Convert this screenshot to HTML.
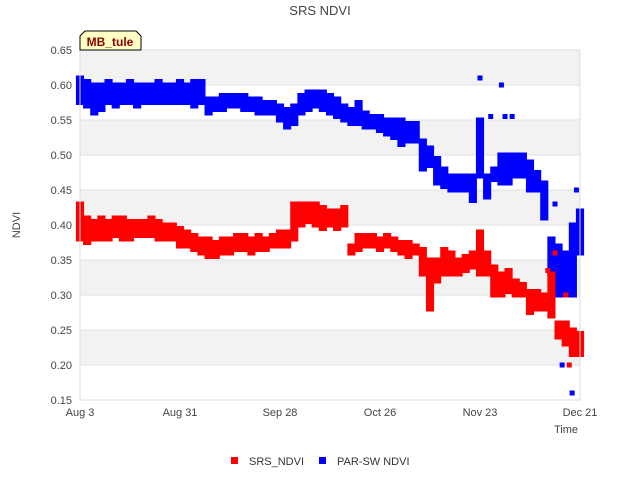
<!DOCTYPE html>
<html><head><meta charset="utf-8"><style>
body{margin:0;background:#fff;}
svg{font-family:"Liberation Sans","DejaVu Sans",sans-serif;}
</style></head><body>
<svg id="c" width="640" height="480" viewBox="0 0 640 480">
<text x="320" y="15" text-anchor="middle" font-size="13" fill="#444">SRS NDVI</text>
<g id="grid"></g>
<g id="marks"></g>
<g id="axes"></g>
<text x="20" y="225" transform="rotate(-90 20 225)" text-anchor="middle" font-size="11" fill="#444">NDVI</text>
<text x="578" y="433" text-anchor="end" font-size="11" fill="#444">Time</text>
<g>
<path d="M80,50 L80,36 L85,31 L136,31 L141,36 L141,50 Z" fill="#ffffc4" stroke="#000" stroke-width="1"/>
<text x="110" y="46" text-anchor="middle" font-size="12" font-weight="bold" fill="#8b0000">MB_tule</text>
</g>
<g>
<rect x="231" y="457" width="7" height="7" fill="#ff0000"/>
<text x="249" y="465" font-size="11" fill="#333">SRS_NDVI</text>
<rect x="319" y="457" width="7" height="7" fill="#0000ff"/>
<text x="337" y="465" font-size="11" fill="#333">PAR-SW NDVI</text>
</g>
</svg>
<script>
const days=[0,2,4,6,8,10,12,14,16,18,20,22,24,26,28,30,32,34,36,38,40,42,44,46,48,50,52,54,56,58,60,62,64,66,68,70,72,74,76,78,80,82,84,86,88,90,92,94,96,98,100,102,104,106,108,110,112,114,116,118,120,122,124,126,128,130,132,134,136,138,140];
const srsLo=[.38,.375,.38,.38,.38,.385,.38,.38,.385,.385,.385,.38,.38,.38,.37,.37,.365,.36,.355,.355,.36,.36,.365,.365,.36,.365,.365,.37,.37,.37,.38,.40,.405,.40,.395,.40,.395,.40,.36,.365,.37,.37,.365,.37,.365,.36,.355,.36,.33,.28,.32,.33,.33,.33,.335,.34,.33,.33,.30,.30,.305,.30,.30,.275,.28,.28,.27,.24,.23,.215,.215];
const srsHi=[.43,.41,.405,.41,.405,.41,.41,.405,.405,.405,.41,.405,.40,.40,.395,.39,.385,.38,.38,.375,.38,.38,.385,.385,.38,.385,.38,.385,.39,.39,.43,.43,.43,.43,.425,.42,.42,.425,.37,.385,.385,.385,.38,.385,.38,.375,.375,.37,.365,.35,.35,.365,.36,.35,.355,.36,.39,.36,.34,.33,.335,.32,.315,.305,.305,.30,.33,.26,.26,.25,.245];
const parLo=[.575,.57,.56,.565,.575,.57,.575,.575,.57,.575,.575,.575,.575,.575,.575,.575,.57,.575,.56,.565,.565,.57,.57,.565,.565,.56,.56,.56,.55,.54,.545,.56,.565,.57,.565,.56,.555,.55,.545,.545,.54,.54,.535,.53,.525,.515,.52,.52,.48,.485,.46,.455,.45,.45,.45,.435,.47,.44,.465,.46,.46,.47,.47,.45,.45,.41,.33,.30,.30,.30,.36];
const parHi=[.61,.605,.60,.60,.605,.60,.60,.605,.60,.60,.60,.605,.60,.60,.605,.60,.605,.605,.58,.58,.585,.585,.585,.585,.58,.58,.575,.575,.57,.565,.57,.585,.59,.59,.59,.585,.58,.57,.565,.575,.56,.555,.555,.55,.55,.55,.545,.545,.52,.51,.495,.48,.47,.47,.47,.47,.55,.47,.48,.50,.50,.50,.50,.49,.475,.46,.38,.37,.36,.40,.42];
const parOutDays=[112,115,118,119,121,135,138,139,137.8,133];
const parOutVals=[.61,.555,.60,.555,.555,.20,.33,.45,.16,.43];
const srsOutDays=[137,133,136,131];
const srsOutVals=[.20,.36,.30,.335];
const yTicks=[0.15,0.20,0.25,0.30,0.35,0.40,0.45,0.50,0.55,0.60,0.65];
const xTickDays=[0,28,56,84,112,140];
const xTickLabels=["Aug 3","Aug 31","Sep 28","Oct 26","Nov 23","Dec 21"];

const L=80,R=580,T=50,B=400;
const X=d=>L+d*(R-L)/140;
const Y=v=>B-(v-0.15)*(B-T)/0.5;
const NS="http://www.w3.org/2000/svg";
function mk(tag,attrs,parent){const e=document.createElementNS(NS,tag);for(const k in attrs)e.setAttribute(k,attrs[k]);parent.appendChild(e);return e;}
const grid=document.getElementById('grid'),marks=document.getElementById('marks'),axes=document.getElementById('axes');
for(let i=0;i<yTicks.length-1;i++){
  if(i%2===1){const b=mk('rect',{x:L,y:Y(yTicks[i+1]),width:R-L,height:Y(yTicks[i])-Y(yTicks[i+1]),fill:'#f2f2f2'},grid);
  
  }
}
yTicks.forEach(v=>{
  const ln=mk('line',{x1:L,x2:R,y1:Y(v),y2:Y(v),stroke:'#e0e0e0'},grid);
  
  
  const t=mk('text',{x:L-8,y:Y(v)+4,'text-anchor':'end','font-size':11,fill:'#444'},axes);
  t.textContent=v.toFixed(2);
  
  
});
xTickDays.forEach((d,i)=>{
  const t=mk('text',{x:X(d),y:416,'text-anchor':'middle','font-size':11,fill:'#444'},axes);
  t.textContent=xTickLabels[i];
  
  
});
const fr=mk('rect',{x:L,y:T,width:R-L,height:B-T,fill:'none',stroke:'#ddd'},axes);


const w=(X(2)-X(0))+1;
function band(lo,hi,col,name){
  days.forEach((d,i)=>{
    const r=mk('rect',{x:X(d)-w/2,y:Y(hi[i])-2.5,width:w,height:Y(lo[i])-Y(hi[i])+5,fill:col},marks);
    
    
  });
}
function pts(ds,vs,col,name){
  ds.forEach((d,i)=>{
    const r=mk('rect',{x:X(d)-2.5,y:Y(vs[i])-2.5,width:5,height:5,fill:col},marks);
    
    
  });
}
band(parLo,parHi,'#0000ff','par-ndvi-points');
pts(parOutDays,parOutVals,'#0000ff','par-ndvi-point');
band(srsLo,srsHi,'#ff0000','srs-ndvi-points');
pts(srsOutDays,srsOutVals,'#ff0000','srs-ndvi-point');
</script>
</body></html>
